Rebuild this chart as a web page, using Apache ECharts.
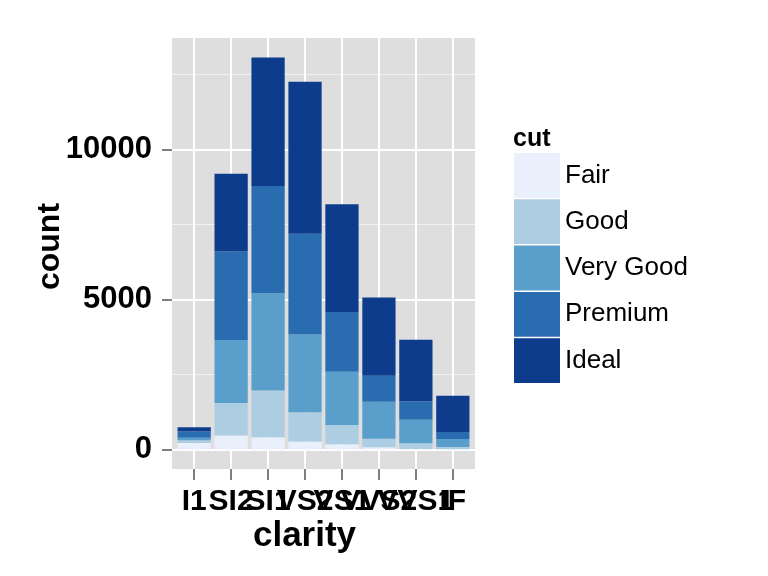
<!DOCTYPE html>
<html>
<head>
<meta charset="utf-8">
<script src="https://cdn.jsdelivr.net/npm/echarts@6/dist/echarts.min.js"></script>
<style>html,body{margin:0;padding:0;background:#fff}#c{width:768px;height:576px}</style>
</head>
<body>
<div id="c"></div>
<script>
const clarity = ['I1', 'SI2', 'SI1', 'VS2', 'VS1', 'VVS2', 'VVS1', 'IF'];
const cuts = ['Fair', 'Good', 'Very Good', 'Premium', 'Ideal'];
const fair     = [210, 466, 408, 261, 170, 69, 17, 9];
const good     = [96, 1081, 1560, 978, 648, 286, 186, 71];
const veryGood = [84, 2100, 3240, 2591, 1775, 1235, 789, 268];
const premium  = [205, 2949, 3575, 3357, 1989, 870, 616, 230];
const ideal    = [146, 2598, 4282, 5071, 3589, 2606, 2047, 1212];
const yMajorTicks = [0, 5000, 10000];
const yMinorTicks = [2500, 7500, 12500];
const colors = ['#E9EFFB', '#ADCDE2', '#5A9FCC', '#2A6CB0', '#0C3C8B'];

const seriesValues = [fair, good, veryGood, premium, ideal];
const positions = clarity.map((c, i) => i + 1);
const oddPos = positions.filter(p => p % 2 === 1);
const evenPos = positions.filter(p => p % 2 === 0);
let maxTotal = 0;
clarity.forEach((c, i) => {
  const t = seriesValues.reduce((s, arr) => s + arr[i], 0);
  if (t > maxTotal) maxTotal = t;
});
const yMin = -0.05 * maxTotal, yMax = 1.05 * maxTotal;

// panel geometry (ggplot-like discrete expansion of 0.6 on each side)
const panelLeft = 172, panelTop = 38, panelW = 303, panelH = 431;
const xLo = 0.4, xHi = clarity.length + 0.6;
const unit = panelW / (xHi - xLo);
const barLeft = panelLeft + (0.5 - xLo) * unit;
const barW = clarity.length * unit;

const font = 'Liberation Sans, Arial, Helvetica, sans-serif';
const xLabelStyle = {
  margin: 18, showMinLabel: true, showMaxLabel: true, hideOverlap: false,
  formatter: v => clarity[Math.round(v) - 1],
  fontFamily: font, fontSize: 30, fontWeight: 'bold', color: '#000'
};
const chart = echarts.init(document.getElementById('c'), null, {renderer: 'canvas'});
chart.setOption({
  animation: false,
  backgroundColor: '#fff',
  title: {
    text: 'cut', left: 513, top: 127, padding: 0,
    textStyle: {fontFamily: font, fontSize: 25, fontWeight: 'bold', color: '#000'}
  },
  legend: {
    orient: 'vertical', left: 514, top: 153, padding: 0,
    itemWidth: 46, itemHeight: 44.8, itemGap: 1.5, icon: 'rect',
    data: cuts,
    textStyle: {fontFamily: font, fontSize: 26, color: '#000'}
  },
  grid: [{
    left: panelLeft, top: panelTop, width: panelW, height: panelH,
    show: true, backgroundColor: '#DEDEDE', borderWidth: 0
  }, {
    left: barLeft, top: panelTop, width: barW, height: panelH,
    show: false
  }],
  xAxis: [{
    gridIndex: 0, type: 'value', min: xLo, max: xHi, position: 'bottom',
    name: 'clarity', nameLocation: 'middle', nameGap: 50, nameMoveOverlap: false,
    nameTextStyle: {fontFamily: font, fontSize: 35, fontWeight: 'bold', color: '#000', padding: [0, 38, 0, 0]},
    axisLine: {show: false, onZero: false},
    axisTick: {show: true, length: 11, customValues: positions, lineStyle: {color: '#7F7F7F', width: 2}},
    axisLabel: Object.assign({customValues: oddPos}, xLabelStyle),
    splitLine: {show: true, lineStyle: {color: '#FFFFFF', width: 2}}
  }, {
    gridIndex: 1, type: 'category', data: clarity,
    axisLine: {show: false, onZero: false}, axisTick: {show: false},
    axisLabel: {show: false}, splitLine: {show: false}
  }, {
    gridIndex: 0, type: 'value', min: xLo, max: xHi, position: 'bottom', offset: 0,
    axisLine: {show: false, onZero: false},
    axisTick: {show: false, customValues: evenPos},
    axisLabel: Object.assign({customValues: evenPos}, xLabelStyle),
    splitLine: {show: false}
  }],
  yAxis: [{
    gridIndex: 0, type: 'value', min: yMin, max: yMax,
    name: 'count', nameLocation: 'middle', nameGap: 106, nameRotate: 90, nameMoveOverlap: false,
    nameTextStyle: {fontFamily: font, fontSize: 32, fontWeight: 'bold', color: '#000', padding: [0, 0, 0, 14]},
    axisLine: {show: false},
    axisTick: {show: true, length: 10, customValues: yMajorTicks, lineStyle: {color: '#7F7F7F', width: 2}},
    axisLabel: {
      customValues: yMajorTicks, margin: 20, showMinLabel: true, showMaxLabel: true,
      formatter: v => String(v),
      fontFamily: font, fontSize: 31, fontWeight: 'bold', color: '#000'
    },
    splitLine: {show: true, lineStyle: {color: '#FFFFFF', width: 2}}
  }, {
    gridIndex: 0, type: 'value', min: yMin, max: yMax,
    axisLine: {show: false},
    axisTick: {show: false, customValues: yMinorTicks},
    axisLabel: {show: false, customValues: yMinorTicks},
    splitLine: {show: true, lineStyle: {color: '#F2F2F2', width: 1}}
  }, {
    gridIndex: 1, type: 'value', min: yMin, max: yMax,
    axisLine: {show: false}, axisTick: {show: false},
    axisLabel: {show: false}, splitLine: {show: false}
  }],
  series: cuts.map((name, k) => ({
    name: name, type: 'bar', stack: 'total', barWidth: '90%',
    xAxisIndex: 1, yAxisIndex: 2,
    itemStyle: {color: colors[k]},
    data: seriesValues[k]
  }))
});
</script>
</body>
</html>
